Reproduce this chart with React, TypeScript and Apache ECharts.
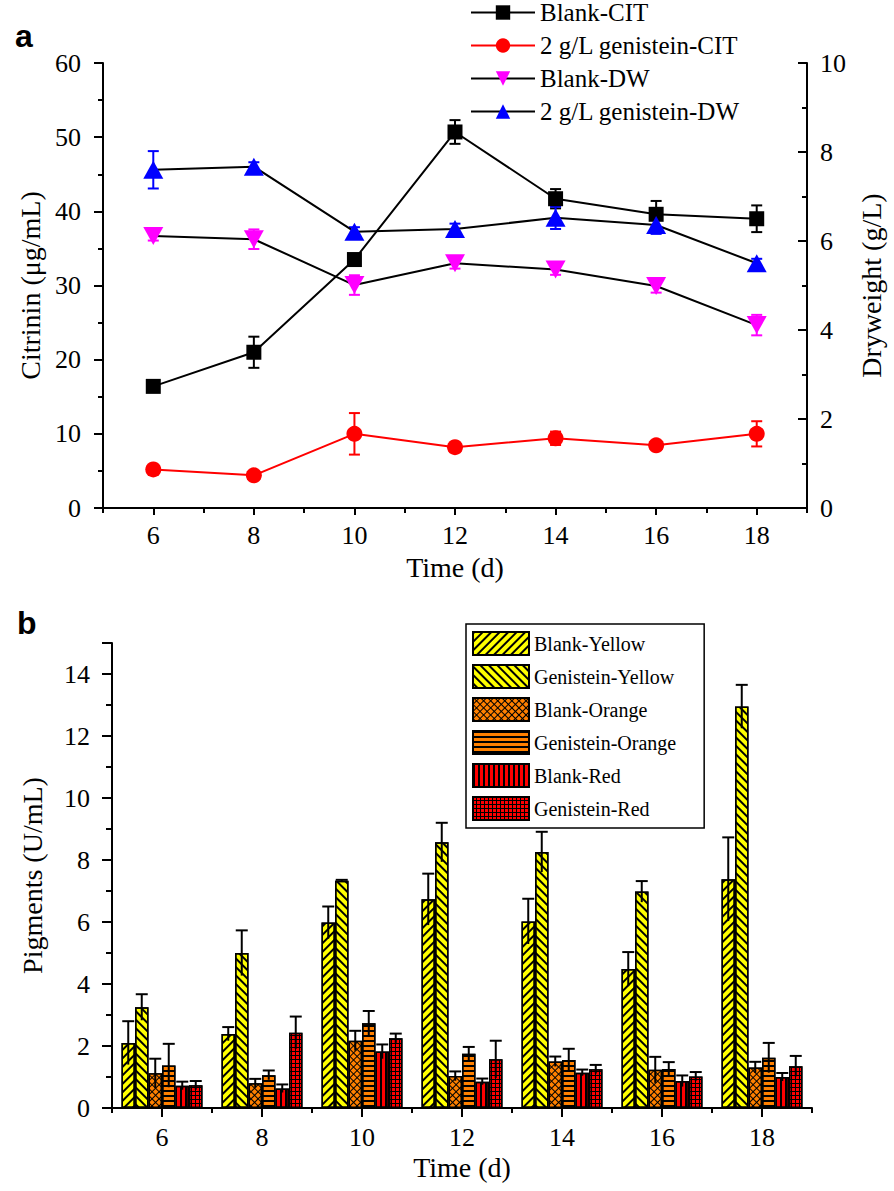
import React, { useEffect, useRef } from 'react';
import * as echarts from 'echarts';

// ---------- Panel a data ----------
const days = [6, 8, 10, 12, 14, 16, 18];
const evenTicks = [6, 8, 10, 12, 14, 16, 18];
const oddTicks = [5, 7, 9, 11, 13, 15, 17, 19];

const blankCIT = [16.4, 21.0, 33.5, 50.7, 41.7, 39.6, 39.0];
const blankCITErr = [0.3, 2.1, 0.5, 1.6, 1.3, 1.8, 1.8];
const genCIT = [5.2, 4.4, 10.0, 8.2, 9.4, 8.45, 10.0];
const genCITErr = [0.2, 0.2, 2.8, 0.3, 0.9, 0.3, 1.7];
const blankDW = [6.11, 6.04, 5.01, 5.5, 5.36, 4.99, 4.11];
const blankDWErr = [0.1, 0.22, 0.22, 0.12, 0.12, 0.15, 0.23];
const genDW = [7.6, 7.67, 6.21, 6.27, 6.52, 6.36, 5.5];
const genDWErr = [0.42, 0.1, 0.1, 0.12, 0.25, 0.2, 0.1];

// ---------- Panel b data ----------
const dayCats = ['6', '8', '10', '12', '14', '16', '18'];
const pigTicksMajor = [0, 2, 4, 6, 8, 10, 12, 14];
const pigTicksMinor = [1, 3, 5, 7, 9, 11, 13];

const blankYellow = [2.1, 2.39, 5.98, 6.73, 6.02, 4.48, 7.38];
const blankYellowErr = [0.7, 0.22, 0.52, 0.83, 0.73, 0.55, 1.35];
const genYellow = [3.25, 5.0, 7.33, 8.57, 8.26, 6.98, 12.95];
const genYellowErr = [0.42, 0.73, 0.03, 0.63, 0.65, 0.34, 0.7];
const blankOrange = [1.12, 0.8, 2.17, 1.03, 1.5, 1.23, 1.31];
const blankOrangeErr = [0.47, 0.14, 0.32, 0.15, 0.16, 0.42, 0.18];
const genOrange = [1.37, 1.06, 2.73, 1.75, 1.55, 1.26, 1.62];
const genOrangeErr = [0.7, 0.15, 0.4, 0.22, 0.36, 0.22, 0.48];
const blankRed = [0.72, 0.63, 1.82, 0.85, 1.14, 0.87, 1.0];
const blankRedErr = [0.13, 0.13, 0.23, 0.1, 0.1, 0.18, 0.13];
const genRed = [0.73, 2.43, 2.25, 1.57, 1.25, 1.02, 1.35];
const genRedErr = [0.14, 0.52, 0.15, 0.6, 0.14, 0.14, 0.33];

const SERIF = "'Liberation Serif', 'Times New Roman', serif";

function lineErr(xs: number[], vals: number[], errs: number[], yIdx: number, color: string) {
  return {
    type: 'custom',
    xAxisIndex: 0,
    yAxisIndex: yIdx,
    silent: true,
    z: 1,
    data: xs.map((x, i) => [x, vals[i], errs[i]]),
    renderItem: (params: any, api: any) => {
      const x = api.value(0), v = api.value(1), e = api.value(2);
      const t = api.coord([x, v + e]);
      const b = api.coord([x, v - e]);
      const cx = t[0];
      const st = { stroke: color, lineWidth: 2 };
      return {
        type: 'group',
        children: [
          { type: 'line', shape: { x1: cx, y1: t[1], x2: cx, y2: b[1] }, style: st },
          { type: 'line', shape: { x1: cx - 5.5, y1: t[1], x2: cx + 5.5, y2: t[1] }, style: st },
          { type: 'line', shape: { x1: cx - 5.5, y1: b[1], x2: cx + 5.5, y2: b[1] }, style: st },
        ],
      };
    },
  };
}

function barErr(vals: number[], errs: number[], k: number) {
  return {
    type: 'custom',
    xAxisIndex: 2,
    yAxisIndex: 2,
    silent: true,
    z: 5,
    data: vals.map((v, i) => [i, v, errs[i]]),
    renderItem: (params: any, api: any) => {
      const i = api.value(0), v = api.value(1), e = api.value(2);
      const band = api.size([1, 0])[0];
      const bw = band * 0.135;
      const base = api.coord([i, v]);
      const x = base[0] + (k - 2.5) * bw;
      const yt = api.coord([i, v + e])[1];
      const yb = api.coord([i, v - e])[1];
      const st = { stroke: '#000', lineWidth: 2 };
      return {
        type: 'group',
        children: [
          { type: 'line', shape: { x1: x, y1: yt, x2: x, y2: yb }, style: st },
          { type: 'line', shape: { x1: x - 6, y1: yt, x2: x + 6, y2: yt }, style: st },
        ],
      };
    },
  };
}

function barSeries(name: string, vals: number[], color: string, decal: any) {
  return {
    type: 'bar',
    name,
    xAxisIndex: 2,
    yAxisIndex: 2,
    barWidth: '13.5%',
    barGap: '0%',
    data: vals,
    itemStyle: { color, borderColor: '#000', borderWidth: 1.5, decal },
  };
}

export default function App() {
  const ref = useRef<HTMLDivElement>(null);
  useEffect(() => {
    if (!ref.current) return;
    const chart = echarts.init(ref.current, undefined, { renderer: 'svg' });
    const axisLine = { show: true, lineStyle: { color: '#000', width: 2 } };
    const tickStyle = { color: '#000', width: 2 };
    const labelStyle = { color: '#000', fontFamily: SERIF, fontSize: 26 };
    const nameStyle = { color: '#000', fontFamily: SERIF, fontSize: 28 };

    const option: any = {
      animation: false,
      backgroundColor: '#fff',
      textStyle: { fontFamily: SERIF },
      grid: [
        { left: 103, top: 63, width: 704, height: 445, containLabel: false },
        { left: 112, top: 643, width: 700, height: 465, containLabel: false },
      ],
      legend: [
        {
          orient: 'vertical',
          left: 470,
          top: 0,
          padding: 0,
          itemGap: 8,
          itemWidth: 64,
          itemHeight: 18,
          textStyle: { color: '#000', fontFamily: SERIF, fontSize: 25 },
          data: ['Blank-CIT', '2 g/L genistein-CIT', 'Blank-DW', '2 g/L genistein-DW'],
        },
        {
          orient: 'vertical',
          left: 466,
          top: 624,
          padding: [7, 28, 7, 6],
          itemGap: 8,
          itemWidth: 56,
          itemHeight: 23,
          icon: 'rect',
          borderColor: '#000',
          borderWidth: 1.5,
          textStyle: { color: '#000', fontFamily: SERIF, fontSize: 20 },
          data: ['Blank-Yellow', 'Genistein-Yellow', 'Blank-Orange', 'Genistein-Orange', 'Blank-Red', 'Genistein-Red'],
        },
      ],
      xAxis: [
        {
          type: 'value', gridIndex: 0, min: 5, max: 19, position: 'bottom',
          name: 'Time (d)', nameLocation: 'middle', nameGap: 45, nameTextStyle: nameStyle,
          axisLine, splitLine: { show: false },
          axisTick: { show: true, length: 7, lineStyle: tickStyle, customValues: evenTicks },
          axisLabel: { ...labelStyle, margin: 14, customValues: evenTicks },
        },
        {
          type: 'value', gridIndex: 0, min: 5, max: 19, position: 'bottom',
          axisLine: { show: false }, splitLine: { show: false },
          axisTick: { show: true, length: 5, lineStyle: tickStyle, customValues: oddTicks },
          axisLabel: { show: false },
        },
        {
          type: 'category', gridIndex: 1, data: dayCats, boundaryGap: true, position: 'bottom',
          show: false,
        },
        {
          type: 'value', gridIndex: 1, min: 5, max: 19, position: 'bottom',
          name: 'Time (d)', nameLocation: 'middle', nameGap: 45, nameTextStyle: nameStyle,
          axisLine, splitLine: { show: false },
          axisTick: { show: true, length: 9, lineStyle: tickStyle, customValues: evenTicks },
          axisLabel: { ...labelStyle, margin: 16, customValues: evenTicks },
        },
        {
          type: 'value', gridIndex: 1, min: 5, max: 19, position: 'bottom',
          axisLine: { show: false }, splitLine: { show: false },
          axisTick: { show: true, length: 5, lineStyle: tickStyle, customValues: oddTicks },
          axisLabel: { show: false },
        },
      ],
      yAxis: [
        {
          type: 'value', gridIndex: 0, min: 0, max: 60, interval: 10, position: 'left',
          name: 'Citrinin (μg/mL)', nameLocation: 'middle', nameGap: 58, nameTextStyle: nameStyle,
          axisLine, splitLine: { show: false },
          axisTick: { show: true, length: 9, lineStyle: tickStyle },
          minorTick: { show: true, splitNumber: 2, length: 5, lineStyle: tickStyle },
          minorSplitLine: { show: false },
          axisLabel: { ...labelStyle, margin: 22 },
        },
        {
          type: 'value', gridIndex: 0, min: 0, max: 10, interval: 2, position: 'right',
          name: 'Dryweight (g/L)', nameLocation: 'middle', nameGap: 50, nameRotate: 90, nameTextStyle: nameStyle,
          axisLine, splitLine: { show: false },
          axisTick: { show: true, inside: true, length: 9, lineStyle: tickStyle },
          minorTick: { show: true, splitNumber: 2, length: 5, lineStyle: tickStyle },
          minorSplitLine: { show: false },
          axisLabel: { ...labelStyle, margin: 13 },
        },
        {
          type: 'value', gridIndex: 1, min: 0, max: 15, position: 'left',
          name: 'Pigments (U/mL)', nameLocation: 'middle', nameGap: 66, nameTextStyle: nameStyle,
          axisLine, splitLine: { show: false },
          axisTick: { show: true, length: 10, lineStyle: tickStyle, customValues: [...pigTicksMajor, 15] },
          axisLabel: { ...labelStyle, margin: 22, customValues: pigTicksMajor },
        },
        {
          type: 'value', gridIndex: 1, min: 0, max: 15, position: 'left',
          axisLine: { show: false }, splitLine: { show: false },
          axisTick: { show: true, length: 6, lineStyle: tickStyle, customValues: pigTicksMinor },
          axisLabel: { show: false },
        },
      ],
      graphic: [
        { type: 'text', left: 15, top: 20, style: { text: 'a', font: 'bold 32px "Liberation Sans"', fill: '#000' } },
        { type: 'text', left: 17, top: 607, style: { text: 'b', font: 'bold 32px "Liberation Sans"', fill: '#000' } },
      ],
      series: [
        lineErr(days, blankCIT, blankCITErr, 0, '#000'),
        lineErr(days, genCIT, genCITErr, 0, '#ff0000'),
        lineErr(days, blankDW, blankDWErr, 1, '#ff00ff'),
        lineErr(days, genDW, genDWErr, 1, '#0000ff'),
        {
          type: 'line', name: 'Blank-CIT', xAxisIndex: 0, yAxisIndex: 0,
          data: days.map((d, i) => [d, blankCIT[i]]),
          symbol: 'rect', symbolSize: 15,
          lineStyle: { color: '#000', width: 2 }, itemStyle: { color: '#000' },
        },
        {
          type: 'line', name: '2 g/L genistein-CIT', xAxisIndex: 0, yAxisIndex: 0,
          data: days.map((d, i) => [d, genCIT[i]]),
          symbol: 'circle', symbolSize: 16,
          lineStyle: { color: '#ff0000', width: 2 }, itemStyle: { color: '#ff0000' },
        },
        {
          type: 'line', name: 'Blank-DW', xAxisIndex: 0, yAxisIndex: 1,
          data: days.map((d, i) => [d, blankDW[i]]),
          symbol: 'triangle', symbolRotate: 180, symbolSize: [20, 18],
          lineStyle: { color: '#000', width: 2 }, itemStyle: { color: '#ff00ff' },
        },
        {
          type: 'line', name: '2 g/L genistein-DW', xAxisIndex: 0, yAxisIndex: 1,
          data: days.map((d, i) => [d, genDW[i]]),
          symbol: 'triangle', symbolSize: [20, 18],
          lineStyle: { color: '#000', width: 2 }, itemStyle: { color: '#0000ff' },
        },
        barSeries('Blank-Yellow', blankYellow, '#ffff00',
          { symbol: 'rect', symbolSize: 1, color: '#000', dashArrayX: [1, 0], dashArrayY: [2, 4], rotation: -Math.PI / 4 }),
        barSeries('Genistein-Yellow', genYellow, '#ffff00',
          { symbol: 'rect', symbolSize: 1, color: '#000', dashArrayX: [1, 0], dashArrayY: [2, 4], rotation: Math.PI / 4 }),
        barSeries('Blank-Orange', blankOrange, '#000',
          { symbol: 'rect', symbolSize: 1, color: '#ff8000', dashArrayX: [4, 1], dashArrayY: [4, 1], rotation: Math.PI / 4 }),
        barSeries('Genistein-Orange', genOrange, '#ff8000',
          { symbol: 'rect', symbolSize: 1, color: '#000', dashArrayX: [1, 0], dashArrayY: [2, 3] }),
        barSeries('Blank-Red', blankRed, '#ff0000',
          { symbol: 'rect', symbolSize: 1, color: '#000', dashArrayX: [2, 3], dashArrayY: [1, 0] }),
        barSeries('Genistein-Red', genRed, '#000',
          { symbol: 'rect', symbolSize: 1, color: '#ff0000', dashArrayX: [3, 1], dashArrayY: [3, 1] }),
        barErr(blankYellow, blankYellowErr, 0),
        barErr(genYellow, genYellowErr, 1),
        barErr(blankOrange, blankOrangeErr, 2),
        barErr(genOrange, genOrangeErr, 3),
        barErr(blankRed, blankRedErr, 4),
        barErr(genRed, genRedErr, 5),
      ],
    };
    chart.setOption(option);
    return () => chart.dispose();
  }, []);
  return (
    <div
      ref={ref}
      style={{ position: 'absolute', left: 0, top: 0, width: 894, height: 1191, background: '#fff' }}
    />
  );
}
